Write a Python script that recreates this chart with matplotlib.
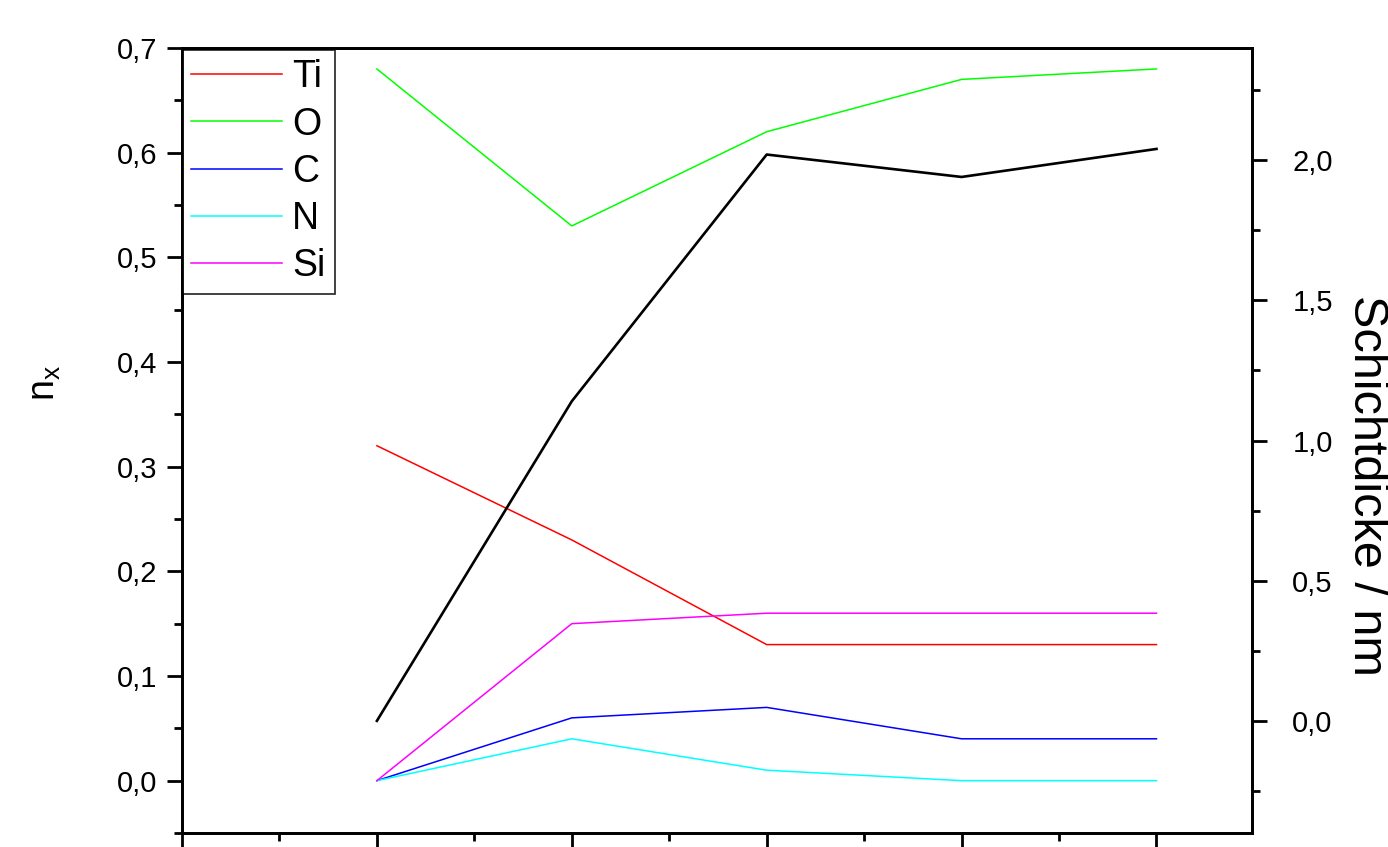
import numpy as np
import matplotlib.pyplot as plt
from matplotlib.ticker import MultipleLocator, FuncFormatter

plt.rcParams['font.family'] = ['Liberation Sans', 'DejaVu Sans']

# probe positions
steps = [1, 2, 3, 4, 5]

# atom fractions n_x
labels = ['Ti', 'O', 'C', 'N', 'Si']
colors = ['#ff0000', '#00ff00', '#0000ff', '#00ffff', '#ff00ff']
n_ti = [0.32, 0.23, 0.13, 0.13, 0.13]
n_o = [0.68, 0.53, 0.62, 0.67, 0.68]
n_c = [0.00, 0.06, 0.07, 0.04, 0.04]
n_n = [0.00, 0.04, 0.01, 0.00, 0.00]
n_si = [0.00, 0.15, 0.16, 0.16, 0.16]

# layer thickness / nm
thickness = [0.0, 1.14, 2.02, 1.94, 2.04]


def comma(v, pos):
    return f'{v:.1f}'.replace('.', ',')


fig = plt.figure(figsize=[13.88, 8.47], dpi=100)
ax = fig.add_axes([182 / 1388, 1 - 833 / 847, (1252 - 182) / 1388, (833 - 48) / 847])
ax2 = ax.twinx()

for lab, col, vals in zip(labels, colors, [n_ti, n_o, n_c, n_n, n_si]):
    ax.plot(steps, vals, color=col, lw=1.1, label=lab)
ax2.plot(steps, thickness, color='black', lw=1.9)

ax.set_xlim(0, 5.49)
ax.set_ylim(-0.05, 0.7)
ax2.set_ylim(-0.4, 2.4)

ax.xaxis.set_major_locator(MultipleLocator(1))
ax.xaxis.set_minor_locator(MultipleLocator(0.5))
ax.yaxis.set_major_locator(MultipleLocator(0.1))
ax.yaxis.set_minor_locator(MultipleLocator(0.05))
ax2.yaxis.set_major_locator(MultipleLocator(0.5))
ax2.yaxis.set_minor_locator(MultipleLocator(0.25))
ax.yaxis.set_major_formatter(FuncFormatter(comma))
ax2.yaxis.set_major_formatter(FuncFormatter(comma))

for a in (ax, ax2):
    for s in a.spines.values():
        s.set_linewidth(2)
ax.tick_params(which='major', direction='out', length=11, width=2, labelsize=21, pad=7)
ax.tick_params(which='minor', direction='out', length=5.5, width=2)
ax.tick_params(axis='x', labelbottom=False, top=False)
ax2.tick_params(which='major', direction='out', length=11, width=2, labelsize=21, pad=18)
ax2.tick_params(which='minor', direction='out', length=5.5, width=2)

ax.set_ylabel('n$_\\mathregular{x}$', fontsize=27)
ax.yaxis.set_label_coords(-0.111, 0.573)
ax2.set_ylabel('Schichtdicke / nm', fontsize=35, rotation=270)
ax2.yaxis.label.set_va('center')
ax2.yaxis.label.set_ha('center')
ax2.yaxis.set_label_coords(1.107, 0.443)

leg = ax.legend(loc='upper left', bbox_to_anchor=(0, 1 - 2 / 785), borderaxespad=0.0,
                fontsize=27, frameon=True, fancybox=False, handlelength=2.42,
                handletextpad=0.27, labelspacing=0.3, borderpad=0.25)
leg.get_frame().set_edgecolor('black')
leg.get_frame().set_linewidth(1.3)

plt.savefig('out.png', dpi=100)
